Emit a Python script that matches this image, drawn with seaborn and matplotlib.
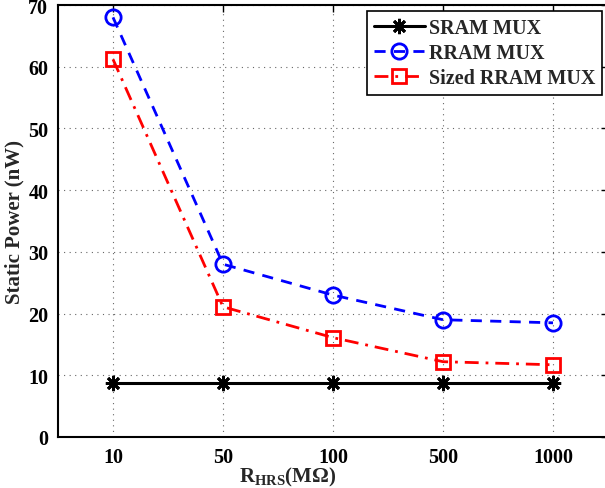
import matplotlib
matplotlib.use("Agg")
import matplotlib.pyplot as plt
import seaborn as sns
import pandas as pd

# Data
r_hrs_labels = ["10", "50", "100", "500", "1000"]
sram_mux = [8.7, 8.7, 8.7, 8.7, 8.7]
rram_mux = [68.0, 28.0, 23.0, 19.0, 18.5]
sized_rram_mux = [61.2, 21.1, 16.1, 12.2, 11.7]
y_ticks = [0, 10, 20, 30, 40, 50, 60, 70]

sns.set_theme(style="white")
plt.rcParams["font.family"] = ["Liberation Serif", "DejaVu Serif"]
plt.rcParams["font.weight"] = "bold"
plt.rcParams["mathtext.fontset"] = "custom"
plt.rcParams["mathtext.rm"] = "Liberation Serif:bold"
plt.rcParams["mathtext.it"] = "Liberation Serif:bold"
plt.rcParams["mathtext.bf"] = "Liberation Serif:bold"

pos = list(range(len(r_hrs_labels)))
df = pd.DataFrame({"pos": pos, "sram": sram_mux, "rram": rram_mux, "sized": sized_rram_mux})

fig = plt.figure(figsize=(6.05, 4.89), dpi=100)
ax = fig.add_axes([58 / 605, 51 / 489, 550 / 605, 432 / 489])

sns.lineplot(data=df, x="pos", y="sram", ax=ax, color="black", linewidth=2.2,
             marker=(8, 2, 0), markersize=11, markeredgewidth=2, markeredgecolor="black",
             label="SRAM MUX")
sns.lineplot(data=df, x="pos", y="rram", ax=ax, color="#0000ff", linewidth=2,
             linestyle=(0, (4, 3)), marker="o", markersize=11, markerfacecolor="none",
             markeredgewidth=2, markeredgecolor="#0000ff", label="RRAM MUX")
sns.lineplot(data=df, x="pos", y="sized", ax=ax, color="#ff0000", linewidth=2,
             linestyle=(0, (5, 2.5, 1, 2.5)), marker="s", markersize=10, markerfacecolor="none",
             markeredgewidth=2, markeredgecolor="#ff0000", label="Sized RRAM MUX")

ax.set_xlim(-0.5, 4.5)
ax.set_ylim(0, 70)
ax.set_xticks(pos)
ax.set_xticklabels(r_hrs_labels)
ax.set_yticks(y_ticks)
ax.tick_params(axis="both", direction="in", length=5, width=1, top=True, right=True,
               labelsize=14.5, pad=7, colors="black")
for lab in ax.get_xticklabels() + ax.get_yticklabels():
    lab.set_fontweight("bold")
ax.grid(True, linestyle=(0, (1, 4)), color="#666666", linewidth=0.8)
for s in ax.spines.values():
    s.set_color("black")
    s.set_linewidth(1.5)

ax.set_ylabel("Static Power (nW)", fontsize=15, fontweight="bold", labelpad=3)
ax.set_xlabel(r"$\mathrm{R_{HRS}}$(M$\Omega$)", fontsize=15, fontweight="bold")
ax.xaxis.set_label_coords(0.418, -0.065)

leg = ax.legend(loc="upper right", bbox_to_anchor=((602 - 58) / 550, 1 - 6 / 432),
                bbox_transform=ax.transAxes, fontsize=14.5, frameon=True, fancybox=False,
                borderpad=0.35, labelspacing=0.25, handlelength=2.5, handletextpad=0.2,
                borderaxespad=0)
leg.get_frame().set_edgecolor("black")
leg.get_frame().set_linewidth(1.2)
leg.get_frame().set_alpha(1)
for t in leg.get_texts():
    t.set_fontweight("bold")

fig.savefig("out.png", dpi=100)
